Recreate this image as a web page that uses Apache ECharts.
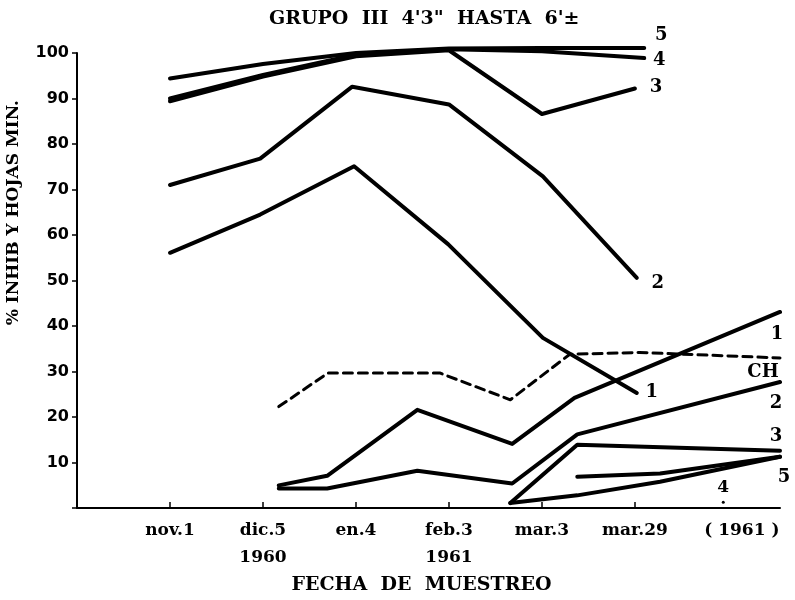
<!DOCTYPE html>
<html>
<head>
    <meta http-equiv="Content-Type" content="text/html; charset=UTF-8">
    <title>ECharts</title>
    <script src="https://cdn.jsdelivr.net/npm/echarts@6/dist/echarts.min.js"></script>
</head>
<body style="margin:0">
<div id="chart" style="width: 795px; height: 600px;"></div>

<script type="text/javascript">
    // x = sample date position (1 = nov.1 ... 6 = mar.29), y = % inhibicion
    var tickPos = [1, 2, 3, 4, 5, 6, 7.15];
    var tickLabels = ['nov.1', 'dic.5\n1960', 'en.4', 'feb.3\n1961', 'mar.3', 'mar.29', '( 1961 )'];

    var up5 = [[1, 94.4], [2, 97.6], [3, 100], [4, 101], [5, 101.1], [6.1, 101.1]];
    var up4 = [[1, 90.0], [2, 95.2], [3, 99.6], [4, 100.8], [5, 100.4], [6.1, 98.9]];
    var up3 = [[1, 89.4], [2, 94.8], [3, 99.3], [4, 100.6], [5, 86.6], [6.0, 92.2]];
    var up2 = [[1, 71.0], [1.97, 76.8], [2.96, 92.6], [4.0, 88.7], [5.01, 72.9], [6.02, 50.6]];
    var up1 = [[1, 56.1], [1.97, 64.5], [2.98, 75.1], [3.99, 58.0], [5.01, 37.4], [6.02, 25.3]];

    var ch = [[2.17, 22.3], [2.7, 29.7], [3.9, 29.7], [4.66, 23.8], [5.3, 33.8], [6.05, 34.2], [7.56, 33.0]];
    var low1 = [[2.17, 5.0], [2.69, 7.1], [3.66, 21.6], [4.68, 14.1], [5.35, 24.2], [7.56, 43.1]];
    var low2 = [[2.17, 4.3], [2.69, 4.3], [3.66, 8.2], [4.68, 5.4], [5.38, 16.2], [7.56, 27.7]];
    var low3 = [[4.66, 1.1], [5.38, 13.9], [7.56, 12.6]];
    var low4 = [[4.66, 1.1], [5.38, 2.8], [6.27, 5.8], [7.56, 11.3]];
    var low5 = [[5.38, 6.9], [6.27, 7.6], [7.56, 11.3]];
    var dot4 = [6.95, 1.3];

    var serif = '"DejaVu Serif", "Liberation Serif", serif';

    // line with its number written next to the end point
    function mkLine(name, pts, label, off, dashed) {
        return {
            name: name, type: 'line', data: pts, symbol: 'none', clip: false,
            lineStyle: {
                color: '#000', width: dashed ? 3 : 4, type: dashed ? [9, 6] : 'solid',
                cap: 'round', join: 'round'
            },
            endLabel: {
                show: label !== '', formatter: label, offset: off, distance: 0,
                align: 'center', verticalAlign: 'middle',
                color: '#000', fontFamily: serif, fontWeight: 'bold', fontSize: 18
            },
            silent: true
        };
    }

    var line4b = mkLine('4b', low4, '', [0, 0]);
    // the "4" of the lower group sits apart, over a small dot
    line4b.markPoint = {
        symbol: 'circle', symbolSize: 3, silent: true,
        itemStyle: { color: '#000' },
        label: {
            show: true, formatter: '4', position: 'top', distance: 5,
            color: '#000', fontFamily: serif, fontWeight: 'bold', fontSize: 17
        },
        data: [{ coord: dot4 }]
    };

    var chart = echarts.init(document.getElementById('chart'));
    chart.setOption({
        animation: false,
        backgroundColor: '#fff',
        title: {
            text: 'GRUPO  III  4\'3"  HASTA  6\'\u00b1',
            left: 264, top: 5,
            textStyle: { fontFamily: serif, fontWeight: 'bold', fontSize: 19, color: '#000' }
        },
        grid: { left: 77, right: 15, top: 53, bottom: 85 },
        xAxis: {
            type: 'value', min: 0, max: 7.56, interval: 1,
            splitLine: { show: false },
            axisLine: { lineStyle: { color: '#000', width: 2 } },
            axisTick: { inside: true, length: 6, customValues: [1, 2, 3, 4, 5, 6], lineStyle: { color: '#000', width: 1.5 } },
            axisLabel: {
                customValues: tickPos,
                formatter: function (v) {
                    var i = tickPos.indexOf(v);
                    return i < 0 ? '' : tickLabels[i];
                },
                color: '#000', fontFamily: serif, fontWeight: 'bold', fontSize: 17,
                lineHeight: 27, margin: 9
            },
            name: 'FECHA  DE  MUESTREO', nameLocation: 'middle', nameGap: 60,
            nameTextStyle: { color: '#000', fontFamily: serif, fontWeight: 'bold', fontSize: 19, padding: [0, 14, 0, 0] }
        },
        yAxis: {
            type: 'value', min: 0, max: 100, interval: 10,
            splitLine: { show: false },
            axisLine: { show: true, lineStyle: { color: '#000', width: 2 } },
            axisTick: { show: true, length: 5, lineStyle: { color: '#000', width: 1.5 } },
            axisLabel: {
                formatter: function (v) { return v === 0 ? '' : v; },
                color: '#000', fontFamily: '"DejaVu Sans", sans-serif', fontWeight: 'bold', fontSize: 16,
                margin: 8
            }
        },
        graphic: [{
            type: 'text', left: 5, top: 100, rotation: Math.PI / 2,
            style: {
                text: '% INHIB Y HOJAS MIN.', fill: '#000',
                font: 'bold 17px ' + serif
            }
        }],
        series: [
            mkLine('5', up5, '5', [17, -13]),
            mkLine('4', up4, '4', [15, 2]),
            mkLine('3', up3, '3', [21, -1]),
            mkLine('2', up2, '2', [21, 6]),
            mkLine('1', up1, '1', [15, -1]),
            mkLine('CH', ch, 'CH', [-17, 14], true),
            mkLine('1b', low1, '1', [-3, 22]),
            mkLine('2b', low2, '2', [-4, 21]),
            mkLine('3b', low3, '3', [-4, -14]),
            line4b,
            mkLine('5b', low5, '5', [4, 21])
        ]
    });
</script>

</body>
</html>
